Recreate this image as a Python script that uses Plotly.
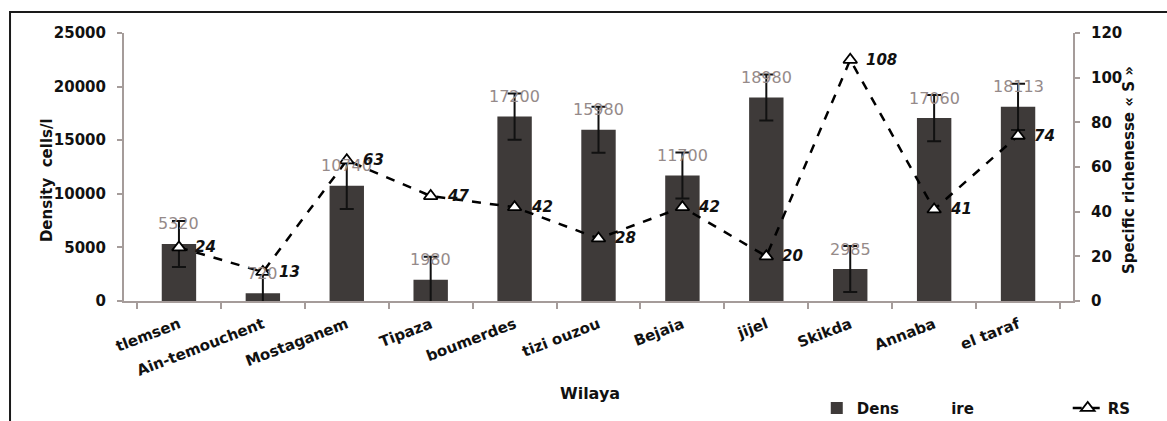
import plotly.graph_objects as go

wilaya = ["tlemsen", "Ain-temouchent", "Mostaganem", "Tipaza", "boumerdes",
          "tizi ouzou", "Bejaia", "jijel", "Skikda", "Annaba", "el taraf"]
density = [5320, 720, 10740, 1980, 17200, 15980, 11700, 18980, 2985, 17060, 18113]
density_err = [2150] * 11
rs = [24, 13, 63, 47, 42, 28, 42, 20, 108, 41, 74]

left_ticks = [0, 5000, 10000, 15000, 20000, 25000]
right_ticks = [0, 20, 40, 60, 80, 100, 120]

FONT = "DejaVu Sans"
AXIS_GREY = "#a59c9a"
BAR_COLOR = "#3e3a39"
NB = "\u00a0"

fig = go.Figure()
fig.add_trace(go.Bar(
    x=wilaya, y=density, name="Dens" + NB * 10 + "ire" + NB * 17,
    marker=dict(color=BAR_COLOR, line=dict(width=0)),
    error_y=dict(type="data", array=density_err, color="#111111", thickness=2, width=7),
    yaxis="y",
))
fig.add_trace(go.Scatter(
    x=wilaya, y=rs, name="RS", mode="lines+markers", yaxis="y2",
    line=dict(color="black", width=2.5, dash="dash"),
    marker=dict(symbol="triangle-up", size=12, color="white",
                line=dict(color="black", width=1.8)),
))

annotations = []
for w, d in zip(wilaya, density):
    annotations.append(dict(x=w, y=d, xref="x", yref="y", text=str(d), showarrow=False,
                            yshift=20, font=dict(family=FONT, size=16, color="#958a89")))
for w, r in zip(wilaya, rs):
    annotations.append(dict(x=w, y=r, xref="x", yref="y2", text="<b><i>%d</i></b>" % r,
                            showarrow=False, xanchor="left", xshift=14,
                            font=dict(family=FONT, size=15, color="#111111")))
annotations += [
    dict(text="<b>Density  cells/l</b>", x=-0.092, y=0.45, xref="paper", yref="paper",
         textangle=-90, showarrow=False, font=dict(family=FONT, size=15, color="#111111")),
    dict(text="<b>Specific richenesse « S »</b>", x=1.07, y=0.49, xref="paper", yref="paper",
         textangle=-90, showarrow=False, font=dict(family=FONT, size=15, color="#111111")),
    dict(text="<b>Wilaya</b>", x=0.491, y=-0.388, xref="paper", yref="paper",
         showarrow=False, font=dict(family=FONT, size=16, color="#111111")),
]

fig.update_layout(
    width=1167, height=421,
    margin=dict(l=124, r=94, t=33, b=120, autoexpand=False),
    paper_bgcolor="white", plot_bgcolor="white",
    bargap=0.59,
    hovermode=False,
    font=dict(family=FONT, color="#111111"),
    xaxis=dict(
        automargin=False,
        showline=True, linecolor=AXIS_GREY, linewidth=2,
        ticks="outside", tickson="boundaries", ticklen=6, tickcolor=AXIS_GREY, tickwidth=1.5,
        ticklabelstandoff=7,
        tickangle=-21, tickfont=dict(family=FONT, size=15, color="#111111", weight="bold"),
        showgrid=False, zeroline=False,
    ),
    yaxis=dict(
        automargin=False,
        range=[0, 25000], tickvals=left_ticks, ticktext=[str(v) for v in left_ticks],
        showline=True, linecolor=AXIS_GREY, linewidth=2,
        ticks="outside", ticklen=5, tickcolor=AXIS_GREY, tickwidth=1.5,
        ticklabelstandoff=8,
        tickfont=dict(family=FONT, size=15, color="#111111", weight="bold"),
        showgrid=False, zeroline=False,
    ),
    yaxis2=dict(
        automargin=False,
        range=[0, 120], tickvals=right_ticks, overlaying="y", side="right",
        showline=True, linecolor=AXIS_GREY, linewidth=2,
        ticks="outside", ticklen=5, tickcolor=AXIS_GREY, tickwidth=1.5,
        ticklabelstandoff=8,
        tickfont=dict(family=FONT, size=15, color="#111111", weight="bold"),
        showgrid=False, zeroline=False,
    ),
    legend=dict(orientation="h", x=0.730, y=-0.40, xanchor="left", yanchor="middle",
                font=dict(family=FONT, size=15, color="#111111", weight="bold"),
                bgcolor="rgba(0,0,0,0)"),
    annotations=annotations,
    shapes=[dict(type="rect", xref="paper", yref="paper", x0=-0.1201, x1=1.3, y0=-0.6,
                 y1=1.078, line=dict(color="#1a1a1a", width=2), layer="below")],
)

fig.write_html("out.html", config={"displayModeBar": False},
               post_script="document.body.style.margin='0';document.body.style.overflow='hidden';")
